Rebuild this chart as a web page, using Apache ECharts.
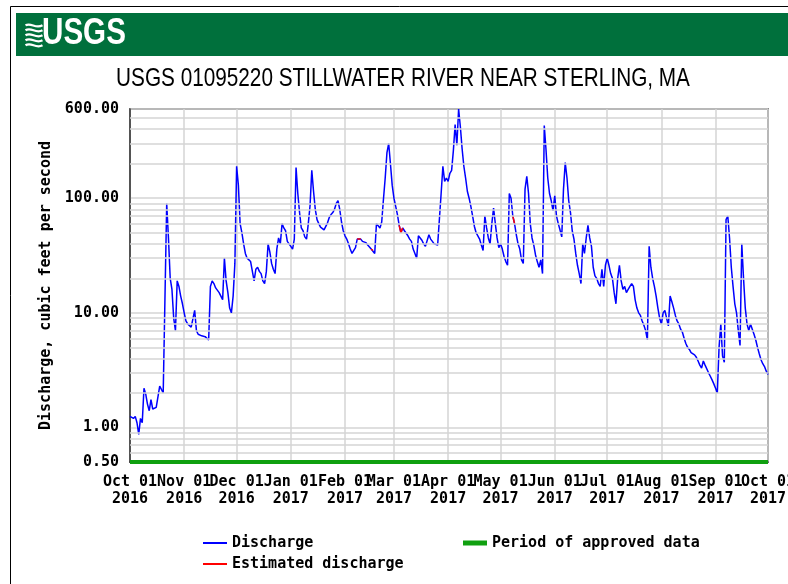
<!DOCTYPE html>
<html>
<head>
<meta charset="utf-8">
<script src="https://cdn.jsdelivr.net/npm/echarts@6/dist/echarts.min.js"></script>
<style>html,body{margin:0;padding:0;background:#fff}#c{width:788px;height:584px}</style>
</head>
<body>
<div id="c"></div>
<script>
// Daily discharge (cfs)
const oct2016 = [1.25,1.25,1.2,1.25,1.1,0.87,1.2,1.1,2.2,1.95,1.6,1.4,1.75,1.45,1.4,1.5,1.45,2.3,2.3,2.0,1.95,90,45,20,16,9,7,19,17,14,12];
const nov2016 = [10,8.5,8,7.8,7.5,7.3,10.5,7,6.5,6.5,6.3,6.2,6.2,6,5.8,17,19,18,16.5,16,15,14,13,30,19,15,11,10,14,27];
const dec2016 = [190,130,60,50,40,33,30,29,28,27,19,24,25,23,22,19,18,23,40,34,27,24,22,36,45,40,60,55,52,42,40];
const jan2017 = [38,36,44,185,110,75,55,52,46,44,60,86,175,115,80,65,60,56,54,53,52,61,68,72,75,80,90,95,80,62,52];
const feb2017 = [47,44,40,36,33,34,37,44,45,44,42,41,41,39,38,36,35,33,60,58,55,62,98,150,250,300,200,130];
const mar2017 = [100,85,72,58,50,55,52,50,47,44,42,36,33,30,47,45,43,40,38,39,48,44,42,40,40,39,39,110,190,140,150];
const apr2017 = [140,165,175,260,440,290,600,420,270,190,150,115,100,85,70,57,50,47,44,39,35,70,55,45,40,60,82,60,45,37];
const may2017 = [40,36,31,28,26,110,100,70,60,48,40,36,29,27,120,155,110,60,45,39,32,28,25,29,22,430,265,150,110,95,78];
const jun2017 = [105,70,60,53,46,120,205,150,95,75,52,44,33,26,22,18,40,33,45,58,45,38,25,21,20,18,17,24,17,26];
const jul2017 = [30,26,22,20,15,12,20,26,19,16,17,15,16,17,18,17,13,11,10,9.5,8.5,7.8,7.0,5.8,38,25,20,17,14,11,9];
const aug2017 = [8,10,10.5,9,7.7,14,12.5,11,9.5,8.5,8,7.2,6.8,6,5.4,5,4.8,4.5,4.4,4.3,4.1,3.8,3.5,3.3,3.8,3.5,3.4,3.0,2.8,2.6,2.4];
const sep2017 = [2.2,2.0,5.0,8,4.2,3.7,65,70,45,25,17,12,10,7,5.2,40,20,11,8,7,8,7.2,6.5,5.8,5.0,4.4,3.9,3.6,3.4,3.1];
const oct2017 = [2.9];

// Day-index ranges drawn as estimated discharge (red)
const estimatedRanges = [[130,132],[138,139],[154,156],[219,220]];
// Period of approved data (plotted along the bottom at the axis minimum)
const approvedStart = '2016-10-01';
const approvedEnd = '2017-10-01';
const approvedLevel = 0.5;

// Axis ticks
const tickDates = ['2016-10-01','2016-11-01','2016-12-01','2017-01-01','2017-02-01','2017-03-01','2017-04-01','2017-05-01','2017-06-01','2017-07-01','2017-08-01','2017-09-01','2017-10-01'];
const tickLabels = ['Oct 01\n2016','Nov 01\n2016','Dec 01\n2016','Jan 01\n2017','Feb 01\n2017','Mar 01\n2017','Apr 01\n2017','May 01\n2017','Jun 01\n2017','Jul 01\n2017','Aug 01\n2017','Sep 01\n2017','Oct 01\n2017'];
const yMin = 0.5, yMax = 600;
const minorGridValues = [0.6,0.7,0.8,0.9,2,3,4,5,6,7,8,9,20,30,40,50,60,70,80,90,200,300,400,500];

const discharge = [].concat(oct2016,nov2016,dec2016,jan2017,feb2017,mar2017,apr2017,may2017,jun2017,jul2017,aug2017,sep2017,oct2017);
const t0 = Date.UTC(2016,9,1);
const categories = discharge.map((_, i) => new Date(t0 + i*86400000).toISOString().slice(0,10));
const inEst = i => estimatedRanges.some(r => i >= r[0] && i <= r[1]);
const estimated = discharge.map((v,i) => inEst(i) ? v : null);

const MONO = 'DejaVu Sans Mono';
const txt = {fontFamily: MONO, fontWeight: 'bold', fontSize: 15, color: '#000'};
const gridColor = '#d4d4d4';
const isTick = (i, v) => tickDates.indexOf(v) >= 0;
const tickLabelOf = v => { const k = tickDates.indexOf(v); return k >= 0 ? tickLabels[k] : ''; };

const chart = echarts.init(document.getElementById('c'), null, {renderer: 'canvas'});
chart.setOption({
  animation: false,
  backgroundColor: '#fff',
  graphic: [
    {type:'rect', shape:{x:10.5, y:6.5, width:800, height:600}, style:{fill:null, stroke:'#000', lineWidth:1}, silent:true},
    {type:'rect', shape:{x:16, y:13, width:772, height:43}, style:{fill:'#00703c'}, silent:true},
    {type:'group', left:23, top:22, silent:true, children:[
      {type:'rect', shape:{x:0,y:0,width:17,height:25}, style:{fill:'#00703c'}},
      {type:'bezierCurve', shape:{x1:0,y1:2,cpx1:6,cpy1:-1,cpx2:10,cpy2:6,x2:17,y2:2}, style:{stroke:'#fff', lineWidth:2.2, fill:null}},
      {type:'bezierCurve', shape:{x1:0,y1:7,cpx1:6,cpy1:3,cpx2:10,cpy2:11,x2:17,y2:7}, style:{stroke:'#fff', lineWidth:2.2, fill:null}},
      {type:'bezierCurve', shape:{x1:0,y1:12,cpx1:6,cpy1:8,cpx2:10,cpy2:16,x2:17,y2:12}, style:{stroke:'#fff', lineWidth:2.2, fill:null}},
      {type:'bezierCurve', shape:{x1:0,y1:17,cpx1:6,cpy1:13,cpx2:10,cpy2:21,x2:17,y2:17}, style:{stroke:'#fff', lineWidth:2.2, fill:null}},
      {type:'bezierCurve', shape:{x1:0,y1:22,cpx1:6,cpy1:18,cpx2:10,cpy2:26,x2:17,y2:22}, style:{stroke:'#fff', lineWidth:2.2, fill:null}}
    ]},
    {type:'text', x:42, y:34, scaleX:0.8, silent:true, style:{text:'USGS', fill:'#fff', align:'left', verticalAlign:'middle', font:'bold 37px "Liberation Sans", Arial, sans-serif'}},
    {type:'text', x:403, y:79, scaleX:0.83, silent:true, style:{text:'USGS 01095220 STILLWATER RIVER NEAR STERLING, MA', fill:'#000', align:'center', verticalAlign:'middle', font:'25px "Liberation Sans", Arial, sans-serif'}}
  ],
  grid: {left:130, right:20, top:109, bottom:122, show:true, borderColor:'#333', borderWidth:1.5, backgroundColor:'transparent', outerBoundsMode:'none'},
  legend: [
    {data:['Discharge','Estimated discharge'], orient:'vertical', left:198, top:530, itemWidth:24, itemHeight:2, itemGap:5, icon:'rect', selectedMode:false,
     textStyle:Object.assign({lineHeight:16}, txt)},
    {data:['Period of approved data'], orient:'vertical', left:458, top:530, itemWidth:24, itemHeight:5, icon:'rect', selectedMode:false,
     textStyle:Object.assign({lineHeight:16}, txt)}
  ],
  xAxis: {
    type:'category', data:categories, boundaryGap:false,
    axisLine:{show:true, lineStyle:{color:'#333', width:1.5}},
    axisTick:{show:false},
    axisLabel:Object.assign({interval:0, formatter:tickLabelOf, lineHeight:17, margin:12, hideOverlap:false}, txt),
    splitLine:{show:true, interval:isTick, lineStyle:{color:gridColor, width:1.5}}
  },
  yAxis: {
    type:'log', logBase:10, min:yMin, max:yMax,
    axisLine:{show:true, lineStyle:{color:'#333', width:1.5}},
    axisTick:{show:false},
    axisLabel:Object.assign({formatter:v => Number(v).toFixed(2), margin:11, showMinLabel:true, showMaxLabel:true}, txt),
    splitLine:{show:true, lineStyle:{color:gridColor, width:1.5}},
    name:'Discharge, cubic feet per second', nameLocation:'middle', nameGap:76, nameRotate:90,
    nameTextStyle:txt
  },
  series: [
    {name:'gridlines', type:'line', data:[], z:1, silent:true,
     markLine:{silent:true, symbol:['none','none'], label:{show:false}, animation:false,
       lineStyle:{color:gridColor, width:1.5, type:'solid'},
       data:minorGridValues.map(v => ({yAxis:v}))}},
    {name:'Discharge', type:'line', data:discharge, showSymbol:false, symbol:'none', z:3,
     lineStyle:{color:'#0000ff', width:1.5}, itemStyle:{color:'#0000ff'}},
    {name:'Estimated discharge', type:'line', data:estimated, showSymbol:false, symbol:'none', z:4, connectNulls:false,
     lineStyle:{color:'#ff0000', width:1.5}, itemStyle:{color:'#ff0000'}},
    {name:'Period of approved data', type:'line', data:[[approvedStart, approvedLevel],[approvedEnd, approvedLevel]],
     showSymbol:false, symbol:'none', z:5, clip:false,
     lineStyle:{color:'#10a010', width:4}, itemStyle:{color:'#10a010'}}
  ]
});
</script>
</body>
</html>
